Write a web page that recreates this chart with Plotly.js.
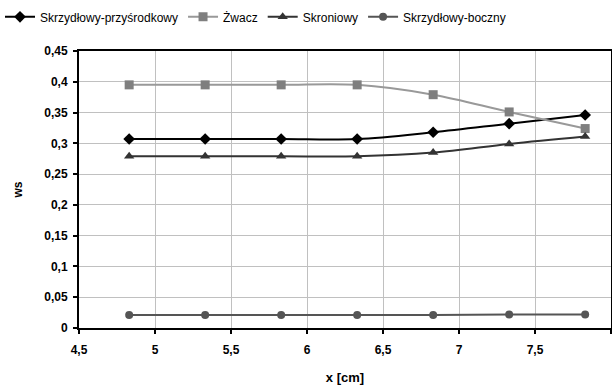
<!DOCTYPE html>
<html><head><meta charset="utf-8">
<script src="https://cdn.plot.ly/plotly-3.0.1.min.js"></script>
<style>html,body{margin:0;padding:0;background:#fff;}#c{width:612px;height:388px;}</style>
</head><body><div id="c"></div>
<script>
const xValues = [4.83, 5.33, 5.83, 6.33, 6.83, 7.33, 7.83];
const seriesNames = ["Skrzydłowy-przyśrodkowy", "Żwacz", "Skroniowy", "Skrzydłowy-boczny"];
const przysrodkowy = [0.307, 0.307, 0.307, 0.307, 0.318, 0.332, 0.346];
const zwacz = [0.395, 0.395, 0.395, 0.395, 0.379, 0.351, 0.324];
const skroniowy = [0.279, 0.279, 0.279, 0.279, 0.285, 0.299, 0.311];
const boczny = [0.021, 0.021, 0.021, 0.021, 0.021, 0.022, 0.022];

const styles = [
  {line:'#000000', marker:'#000000', symbol:'diamond', size:9},
  {line:'#999999', marker:'#7f7f7f', symbol:'square', size:9},
  {line:'#333333', marker:'#333333', symbol:'triangle-up', size:9},
  {line:'#555555', marker:'#555555', symbol:'circle', size:8}
];
const data = [przysrodkowy, zwacz, skroniowy, boczny].map((ys, i) => ({
  x: xValues, y: ys, name: seriesNames[i], type: 'scatter', mode: 'lines+markers',
  line: {color: styles[i].line, width: 2, shape: 'spline', smoothing: 1},
  marker: {color: styles[i].marker, symbol: styles[i].symbol, size: styles[i].size}
}));

const layout = {
  width: 612, height: 388,
  margin: {l: 79, r: 1, t: 51, b: 60},
  separators: ',.',
  paper_bgcolor: '#ffffff', plot_bgcolor: '#ffffff',
  font: {family: 'Liberation Sans, Arial, sans-serif', color: '#000', size: 12},
  showlegend: true,
  legend: {orientation: 'h', x: 0, y: 0.994, xref: 'container', yref: 'container',
           xanchor: 'left', yanchor: 'top', font: {size: 12}, itemwidth: 30,
           tracegroupgap: 0, bgcolor: 'rgba(0,0,0,0)'},
  xaxis: {range: [4.5, 8], dtick: 0.5, tick0: 4.5, showgrid: true, gridcolor: '#c0c0c0', gridwidth: 1,
          showline: true, linecolor: '#000', linewidth: 2, mirror: true, zeroline: false,
          ticks: 'outside', ticklen: 4, tickcolor: '#000', tickwidth: 2, ticklabelstandoff: 6,
          tickfont: {size: 12, weight: 'bold'},
          title: {text: 'x [cm]', font: {size: 13, weight: 'bold'}, standoff: 16}},
  yaxis: {range: [0, 0.45], dtick: 0.05, tick0: 0, showgrid: true, gridcolor: '#c0c0c0', gridwidth: 1,
          showline: true, linecolor: '#000', linewidth: 2, mirror: true, zeroline: false,
          ticks: 'outside', ticklen: 4, tickcolor: '#000', tickwidth: 2, ticklabelstandoff: 3,
          tickfont: {size: 12, weight: 'bold'},
          title: {text: 'ws', font: {size: 12, weight: 'bold'}, standoff: 19}}
};
Plotly.newPlot('c', data, layout, {displayModeBar: false, staticPlot: true});
</script>
</body></html>
